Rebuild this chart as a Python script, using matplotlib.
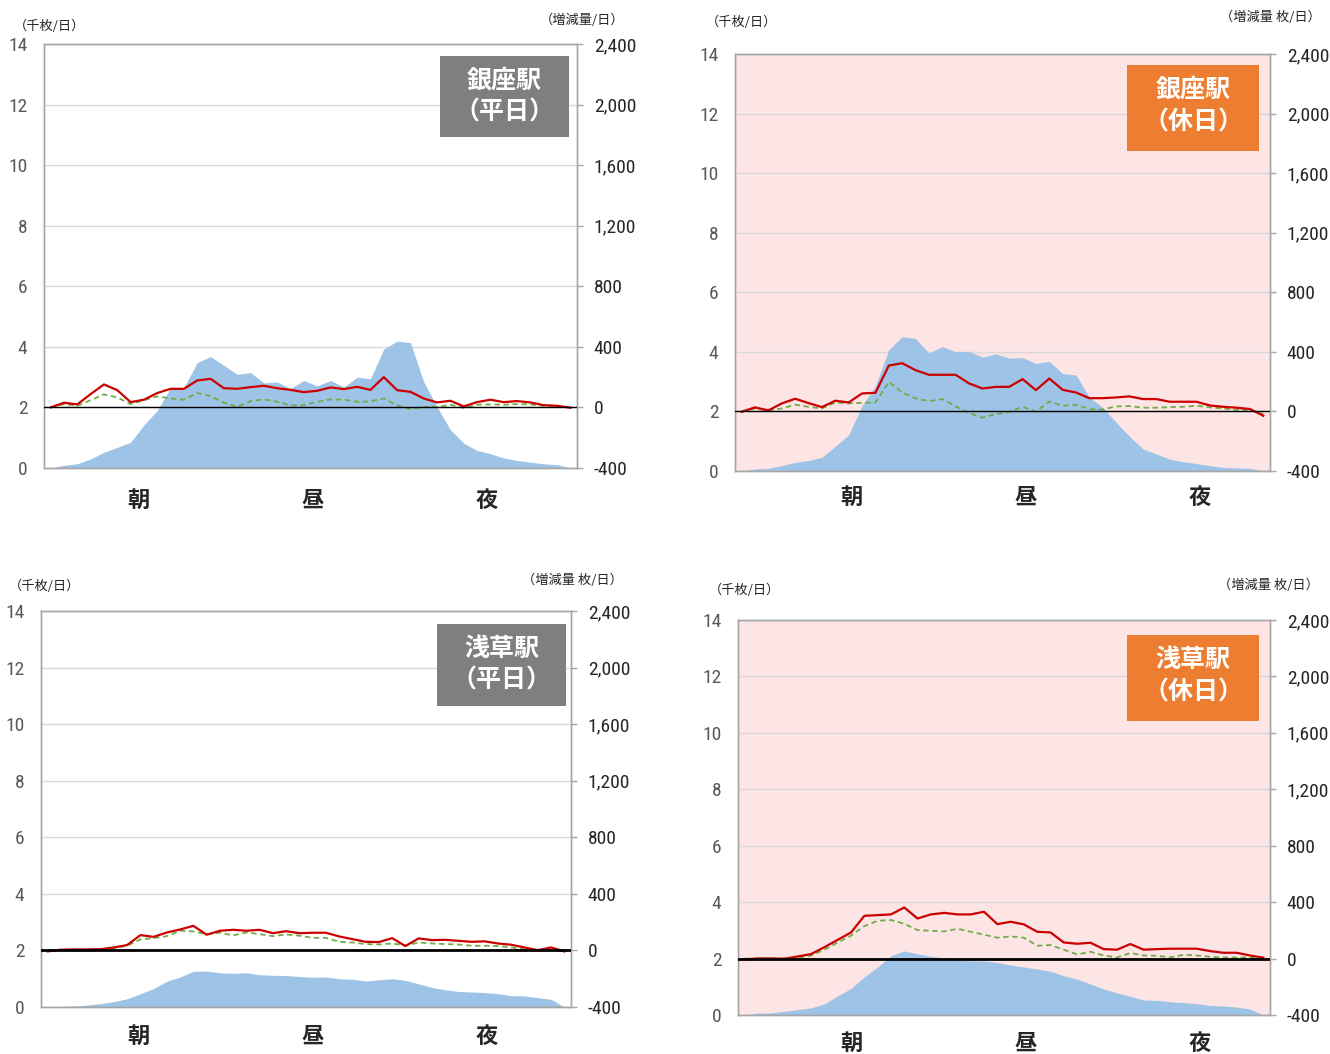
import matplotlib
matplotlib.use('Agg')
import matplotlib.pyplot as plt
from matplotlib.patches import Rectangle
from matplotlib.ticker import FuncFormatter, FixedLocator
from matplotlib import font_manager
import numpy as np

# ---------------- data ----------------
# 40 time slots across the day (朝 -> 昼 -> 夜)
# area: passengers (千枚/日, left axis); red / green lines: change (枚/日, right axis)
ginza_weekday_area = [0.0, 0.09, 0.14, 0.30, 0.52, 0.68, 0.85, 1.42, 1.90, 2.65,
                      2.66, 3.48, 3.68, 3.39, 3.09, 3.15, 2.81, 2.84, 2.62, 2.89,
                      2.71, 2.89, 2.67, 3.00, 2.95, 3.93, 4.19, 4.14, 2.84, 2.02,
                      1.26, 0.82, 0.58, 0.47, 0.33, 0.25, 0.19, 0.14, 0.11, 0.0]
ginza_weekday_red = [0, 31, 20, 88, 152, 114, 35, 51, 95, 123,
                     123, 178, 189, 127, 123, 134, 143, 127, 116, 101,
                     110, 132, 121, 136, 116, 200, 114, 103, 59, 33,
                     44, 7, 35, 51, 35, 42, 33, 15, 11, -2]
ginza_weekday_green = [0, 22, 11, 48, 86, 66, 22, 48, 73, 59,
                       51, 95, 75, 31, 4, 42, 53, 37, 13, 15,
                       37, 53, 51, 37, 40, 59, 13, -11, 4, 4,
                       18, -4, 18, 20, 18, 22, 20, 11, 7, 0]

ginza_holiday_area = [0.0, 0.07, 0.09, 0.18, 0.29, 0.35, 0.46, 0.83, 1.21, 2.19,
                      2.86, 4.07, 4.51, 4.45, 3.96, 4.18, 4.00, 4.02, 3.82, 3.93,
                      3.79, 3.81, 3.61, 3.68, 3.27, 3.22, 2.47, 2.13, 1.63, 1.16,
                      0.74, 0.57, 0.40, 0.31, 0.25, 0.18, 0.12, 0.10, 0.09, 0.0]
ginza_holiday_red = [-2, 27, 7, 54, 85, 56, 29, 72, 60, 121,
                     125, 308, 324, 277, 246, 246, 246, 188, 154, 165,
                     165, 217, 143, 221, 145, 127, 89, 89, 94, 101,
                     83, 83, 65, 65, 65, 40, 31, 25, 16, -29]
ginza_holiday_green = [-2, 20, 7, 20, 45, 31, 20, 60, 54, 58,
                       60, 199, 127, 87, 69, 83, 34, -11, -42, -18,
                       -4, 31, -2, 67, 38, 45, 16, 13, 34, 36,
                       25, 25, 29, 31, 38, 27, 20, 9, 11, -18]

asakusa_weekday_area = [0.0, 0.01, 0.035, 0.07, 0.12, 0.19, 0.29, 0.47, 0.65, 0.91,
                        1.06, 1.26, 1.27, 1.21, 1.19, 1.21, 1.14, 1.12, 1.11, 1.08,
                        1.05, 1.06, 1.00, 0.98, 0.92, 0.96, 1.00, 0.94, 0.82, 0.69,
                        0.61, 0.55, 0.53, 0.51, 0.47, 0.40, 0.39, 0.33, 0.27, 0.0]
asakusa_weekday_red = [-7, 5, 7, 7, 9, 21, 38, 108, 96, 127,
                       148, 174, 111, 139, 146, 139, 146, 122, 136, 122,
                       125, 125, 99, 80, 61, 59, 87, 31, 85, 73,
                       75, 68, 61, 64, 49, 40, 21, 2, 21, -7]
asakusa_weekday_green = [-5, 5, 5, 5, 7, 16, 33, 78, 87, 101,
                         139, 134, 115, 125, 106, 127, 115, 101, 113, 104,
                         89, 89, 61, 56, 45, 42, 49, 35, 56, 49,
                         45, 42, 33, 33, 31, 21, 9, 0, 5, -5]

asakusa_holiday_area = [0.0, 0.07, 0.07, 0.13, 0.19, 0.25, 0.40, 0.68, 0.94, 1.35,
                        1.70, 2.10, 2.27, 2.17, 2.08, 2.02, 2.00, 1.92, 1.92, 1.86,
                        1.77, 1.70, 1.63, 1.55, 1.39, 1.27, 1.10, 0.92, 0.78, 0.66,
                        0.53, 0.52, 0.47, 0.44, 0.40, 0.34, 0.32, 0.28, 0.21, 0.0]
asakusa_holiday_red = [-6, 1, 1, -1, 15, 32, 81, 133, 185, 303,
                       308, 313, 362, 284, 313, 324, 313, 313, 332, 244,
                       261, 242, 190, 185, 114, 105, 112, 67, 63, 103,
                       63, 67, 70, 70, 70, 53, 41, 41, 22, 6]
asakusa_holiday_green = [-1, -1, -1, -1, 6, 22, 63, 114, 162, 230,
                         268, 273, 247, 202, 197, 192, 211, 190, 169, 148,
                         157, 148, 91, 96, 63, 29, 48, 22, 8, 39,
                         22, 20, 8, 27, 22, 13, 8, 8, 8, 1]

station_names = ['銀座駅', '銀座駅', '浅草駅', '浅草駅']
day_types = ['（平日）', '（休日）', '（平日）', '（休日）']
left_unit = '（千枚/日）'
right_units = ['（増減量/日）', '（増減量 枚/日）', '（増減量 枚/日）', '（増減量 枚/日）']
time_labels = ['朝', '昼', '夜']
left_ticks = [0, 2, 4, 6, 8, 10, 12, 14]
right_ticks = [-400, 0, 400, 800, 1200, 1600, 2000, 2400]

areas = [ginza_weekday_area, ginza_holiday_area, asakusa_weekday_area, asakusa_holiday_area]
reds = [ginza_weekday_red, ginza_holiday_red, asakusa_weekday_red, asakusa_holiday_red]
greens = [ginza_weekday_green, ginza_holiday_green, asakusa_weekday_green, asakusa_holiday_green]

# ---------------- layout / style ----------------
W, H = 1330, 1054
fig = plt.figure(figsize=(W / 100, H / 100), dpi=100)
fig.patch.set_facecolor('white')

JP = ['Noto Sans CJK JP', 'DejaVu Sans']
installed = {f.name for f in font_manager.fontManager.ttflist}
condensed = [n for n in ('Roboto Condensed', 'Liberation Sans Narrow', 'Open Sans Condensed')
             if n in installed]
if condensed:
    NUM = [condensed[0], 'Liberation Sans', 'DejaVu Sans']
    num_size = 14
else:
    NUM = ['Liberation Sans', 'DejaVu Sans']
    num_size = 12

# pixel rects (left, top, right, bottom)
axes_px = [(44, 44, 577, 468), (735, 54, 1270, 471), (41, 611, 571, 1007), (738, 620, 1270, 1015)]
box_px = [(440, 56, 569, 137), (1127, 65, 1259, 151), (437, 624, 566, 706), (1127, 635, 1259, 721)]
box_colors = ['#7F7F7F', '#ED7D31', '#7F7F7F', '#ED7D31']
bg_colors = ['white', '#FDE4E5', 'white', '#FDE4E5']
left_unit_pos = [(50, 26), (742, 22), (45, 586), (745, 590)]
right_unit_pos = [(582, 20), (1270, 17), (572, 580), (1268, 585)]
time_x = [(138, 313, 487), (851, 1026, 1200), (138, 313, 487), (851, 1026, 1200)]
time_y = [500, 497, 1036, 1043]
zero_lw = [1.0, 1.0, 2.0, 2.0]


def fx(px):
    return px / W


def fy(py):
    return 1 - py / H


n = len(ginza_weekday_area)
x = np.arange(n)

for k in range(4):
    l, t, r, b = axes_px[k]
    ax = fig.add_axes([fx(l), fy(b), fx(r) - fx(l), fy(t) - fy(b)])
    ax.set_facecolor(bg_colors[k])
    ax.fill_between(x, 0, areas[k], color='#9DC3E6', linewidth=0, zorder=2)
    ax.set_xlim(-0.5, n - 0.5)
    ax.set_ylim(0, 14)
    ax.yaxis.set_major_locator(FixedLocator(left_ticks))
    ax.grid(axis='y', color='#D9D9D9', linewidth=1.0, zorder=0)
    ax.set_axisbelow(True)
    ax.set_xticks([])
    ax.tick_params(axis='y', length=0, pad=12, labelsize=num_size, labelcolor='#595959')
    for lab in ax.get_yticklabels():
        lab.set_family(NUM)
    for s in ax.spines.values():
        s.set_color('#A6A6A6')
        s.set_linewidth(1.0)

    ax2 = ax.twinx()
    ax2.set_ylim(-400, 2400)
    ax2.yaxis.set_major_locator(FixedLocator(right_ticks))
    ax2.yaxis.set_major_formatter(FuncFormatter(lambda v, p: f'{v:,.0f}'))
    ax2.plot(x, greens[k], color='#70AD47', linewidth=1.3, linestyle=(0, (3, 2)), zorder=3)
    ax2.plot(x, reds[k], color='#CC0000', linewidth=1.6, zorder=4)
    ax2.axhline(0, color='black', linewidth=zero_lw[k], zorder=5)
    ax2.tick_params(axis='y', length=4, width=1, color='#A6A6A6', pad=8,
                    labelsize=num_size, labelcolor='#262626')
    for lab in ax2.get_yticklabels():
        lab.set_family(NUM)
    for s in ax2.spines.values():
        s.set_color('#A6A6A6')
        s.set_linewidth(1.0)

    # title box
    bl, bt, br, bb = box_px[k]
    fig.patches.append(Rectangle((fx(bl), fy(bb)), fx(br) - fx(bl), fy(bt) - fy(bb),
                                 transform=fig.transFigure, facecolor=box_colors[k],
                                 edgecolor='none', zorder=10))
    cx = (bl + br) / 2
    fig.text(fx(cx), fy(bt + 25), station_names[k], ha='center', va='center', color='white',
             fontsize=18, fontweight='bold', family=JP, zorder=11)
    fig.text(fx(cx), fy(bt + 57), day_types[k], ha='center', va='center', color='white',
             fontsize=18, fontweight='bold', family=JP, zorder=11)

    # unit labels
    ux, uy = left_unit_pos[k]
    fig.text(fx(ux), fy(uy), left_unit, ha='center', va='center', fontsize=9.5,
             color='#262626', family=JP)
    rx, ry = right_unit_pos[k]
    fig.text(fx(rx), fy(ry), right_units[k], ha='center', va='center', fontsize=9.5,
             color='#262626', family=JP)

    # time-of-day labels
    for lbl, tx in zip(time_labels, time_x[k]):
        fig.text(fx(tx), fy(time_y[k]), lbl, ha='center', va='center', fontsize=16,
                 fontweight='bold', color='#262626', family=JP)

fig.savefig('out.png', dpi=100, facecolor='white')
